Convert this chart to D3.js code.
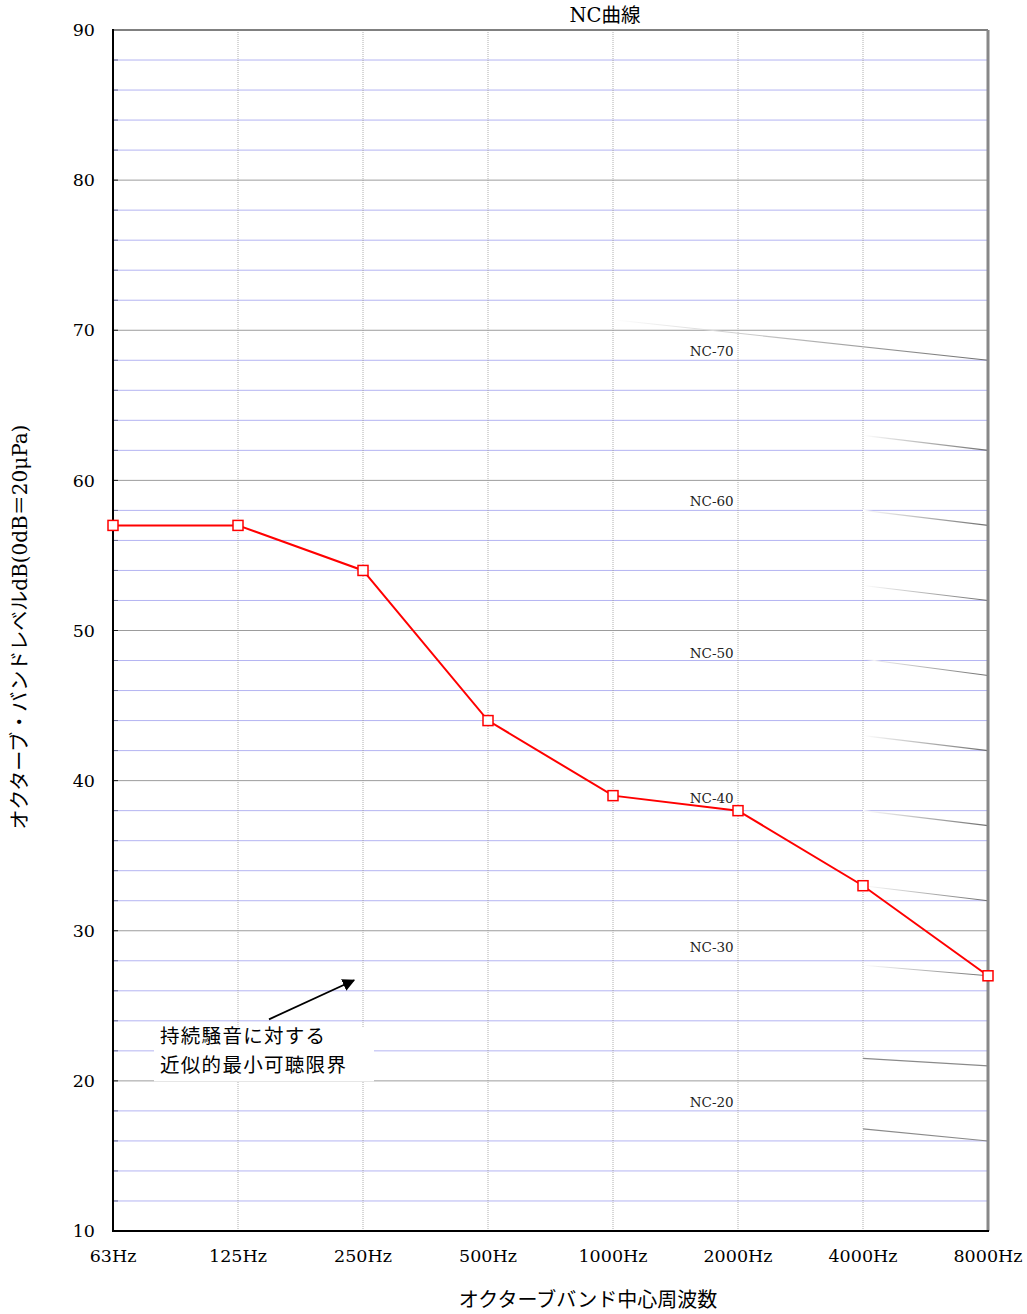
<!DOCTYPE html>
<html>
<head>
<meta charset="utf-8">
<script src="https://cdn.jsdelivr.net/npm/d3@7"></script>
<style>
  body { margin: 0; background: #fff; }
  text { font-family: "DejaVu Serif", "Noto Sans CJK JP", serif; }
</style>
</head>
<body>
<script>
// Data
const bands = ['63Hz', '125Hz', '250Hz', '500Hz', '1000Hz', '2000Hz', '4000Hz', '8000Hz']
const threshold = [57, 57, 54, 44, 39, 38, 33, 27]

// visible pieces of the NC curves: start band, start dB, dB at 8000Hz, faded or not
const ncStart = ['1000Hz', '4000Hz', '4000Hz', '4000Hz', '4000Hz', '4000Hz', '4000Hz', '4000Hz', '4000Hz', '4000Hz', '4000Hz']
const ncFrom = [70.7, 63, 58, 53, 48.1, 43, 38, 33, 27.7, 21.5, 16.8]
const ncTo = [68, 62, 57, 52, 47, 42, 37, 32, 27, 21, 16]
const ncFaded = [true, true, true, true, true, true, true, true, true, false, false]

const ncLabels = ['NC-70', 'NC-60', 'NC-50', 'NC-40', 'NC-30', 'NC-20']
const ncLabelDb = [68.6, 58.6, 48.5, 38.85, 28.9, 18.6]

const yTicks = [10, 20, 30, 40, 50, 60, 70, 80, 90]
const noteLines = ['持続騒音に対する', '近似的最小可聴限界']

const W = 1027, H = 1314
const pLeft = 113, pRight = 988, pTop = 30, pBottom = 1231

const svg = d3.select('body').append('svg')
  .attr('width', W)
  .attr('height', H)

const x = d3.scalePoint().domain(bands).range([pLeft, pRight])
const y = d3.scaleLinear().domain([10, 90]).range([pBottom, pTop])

// horizontal grid every 2 dB
const gridVals = d3.range(12, 90, 2)
svg.append('g').selectAll('line')
  .data(gridVals)
  .join('line')
  .attr('x1', pLeft).attr('x2', pRight)
  .attr('y1', d => y(d)).attr('y2', d => y(d))
  .attr('stroke', d => d % 10 === 0 ? '#9c9c9c' : '#b4b4f2')
  .attr('stroke-width', 1)

// little ticks inside the left axis
svg.append('g').selectAll('line')
  .data(gridVals)
  .join('line')
  .attr('x1', pLeft).attr('x2', pLeft + 5)
  .attr('y1', d => y(d)).attr('y2', d => y(d))
  .attr('stroke', d => d % 10 === 0 ? '#222' : '#666a90')
  .attr('stroke-width', 1)

// vertical grid
svg.append('g').selectAll('line')
  .data(bands.slice(1, -1))
  .join('line')
  .attr('x1', d => x(d)).attr('x2', d => x(d))
  .attr('y1', pTop).attr('y2', pBottom)
  .attr('stroke', '#999')
  .attr('stroke-width', 0.8)
  .attr('stroke-dasharray', '1,1')

// NC curve fragments
const defs = svg.append('defs')
const ncData = ncStart.map((s, i) => ({ s, from: ncFrom[i], to: ncTo[i], faded: ncFaded[i] }))
ncData.forEach((d, i) => {
  const g = defs.append('linearGradient')
    .attr('id', 'ncg' + i)
    .attr('gradientUnits', 'userSpaceOnUse')
    .attr('x1', x(d.s)).attr('y1', y(d.from))
    .attr('x2', x('8000Hz')).attr('y2', y(d.to))
  g.append('stop').attr('offset', 0).attr('stop-color', '#ffffff')
  g.append('stop').attr('offset', 1).attr('stop-color', '#6e6e6e')
})
svg.append('g').selectAll('line')
  .data(ncData)
  .join('line')
  .attr('x1', d => x(d.s)).attr('y1', d => y(d.from))
  .attr('x2', x('8000Hz')).attr('y2', d => y(d.to))
  .attr('stroke', (d, i) => d.faded ? `url(#ncg${i})` : '#8a8a8a')
  .attr('stroke-width', 1.1)

// NC labels
const step = x.step()
svg.append('g').selectAll('text')
  .data(ncLabels)
  .join('text')
  .attr('x', x('1000Hz') + step * 0.79)
  .attr('y', (d, i) => y(ncLabelDb[i]))
  .attr('dy', '0.35em')
  .attr('text-anchor', 'middle')
  .attr('font-size', 13.5)
  .attr('fill', '#222')
  .text(d => d)

// frame
svg.append('line').attr('x1', pLeft).attr('x2', pRight).attr('y1', pTop).attr('y2', pTop)
  .attr('stroke', '#808080').attr('stroke-width', 2)
svg.append('line').attr('x1', pRight).attr('x2', pRight).attr('y1', pTop).attr('y2', pBottom)
  .attr('stroke', '#888').attr('stroke-width', 3)
svg.append('line').attr('x1', pLeft).attr('x2', pLeft).attr('y1', pTop - 1).attr('y2', pBottom + 1)
  .attr('stroke', '#000').attr('stroke-width', 2)
svg.append('line').attr('x1', pLeft).attr('x2', pRight + 1).attr('y1', pBottom).attr('y2', pBottom)
  .attr('stroke', '#000').attr('stroke-width', 2)

// y tick labels
svg.append('g').selectAll('text')
  .data(yTicks)
  .join('text')
  .attr('x', pLeft - 18)
  .attr('y', d => y(d))
  .attr('dy', '0.35em')
  .attr('text-anchor', 'end')
  .attr('font-size', 17.5)
  .text(d => d)

// x tick labels
svg.append('g').selectAll('text')
  .data(bands)
  .join('text')
  .attr('x', d => x(d))
  .attr('y', pBottom + 31)
  .attr('text-anchor', 'middle')
  .attr('font-size', 17.5)
  .text(d => d)

// annotation (white box hides the grid behind the text)
const ax = x('125Hz') - 78
const ay = y(23.9)
svg.append('rect')
  .attr('x', ax - 6).attr('y', ay + 5)
  .attr('width', 220).attr('height', 54)
  .attr('fill', '#fff')
svg.append('g').selectAll('text')
  .data(noteLines)
  .join('text')
  .attr('x', ax)
  .attr('y', (d, i) => ay + 21 + i * 28.5)
  .attr('font-size', 19.5)
  .attr('letter-spacing', 1.3)
  .style('font-family', '"Noto Sans CJK JP", sans-serif')
  .text(d => d)

defs.append('marker')
  .attr('id', 'arrow')
  .attr('viewBox', '0 0 10 10')
  .attr('refX', 9).attr('refY', 5)
  .attr('markerWidth', 7).attr('markerHeight', 7)
  .attr('markerUnits', 'strokeWidth')
  .attr('orient', 'auto')
  .append('path')
  .attr('d', 'M0,0 L10,5 L0,10 z')
  .attr('fill', '#000')
svg.append('line')
  .attr('x1', x('125Hz') + 31).attr('y1', y(24.1))
  .attr('x2', x('250Hz') - 9).attr('y2', y(26.7))
  .attr('stroke', '#000').attr('stroke-width', 1.8)
  .attr('marker-end', 'url(#arrow)')

// threshold line
const pts = bands.map((b, i) => ({ b, v: threshold[i] }))
svg.append('path')
  .datum(pts)
  .attr('fill', 'none')
  .attr('stroke', '#ff0000')
  .attr('stroke-width', 2)
  .attr('d', d3.line().x(d => x(d.b)).y(d => y(d.v)))
svg.append('g').selectAll('rect')
  .data(pts)
  .join('rect')
  .attr('x', d => x(d.b) - 5).attr('y', d => y(d.v) - 5)
  .attr('width', 10).attr('height', 10)
  .attr('fill', '#fff')
  .attr('stroke', '#ff0000')
  .attr('stroke-width', 1.5)

// titles
svg.append('text')
  .attr('x', 605).attr('y', 22)
  .attr('text-anchor', 'middle')
  .attr('font-size', 19.5)
  .text('NC曲線')
svg.append('text')
  .attr('x', 588).attr('y', 1307)
  .attr('text-anchor', 'middle')
  .attr('font-size', 20)
  .text('オクターブバンド中心周波数')
svg.append('text')
  .attr('transform', 'translate(27,627) rotate(-90)')
  .attr('text-anchor', 'middle')
  .attr('font-size', 20)
  .text('オクターブ・バンドレベルdB(0dB＝20μPa)')
</script>
</body>
</html>
